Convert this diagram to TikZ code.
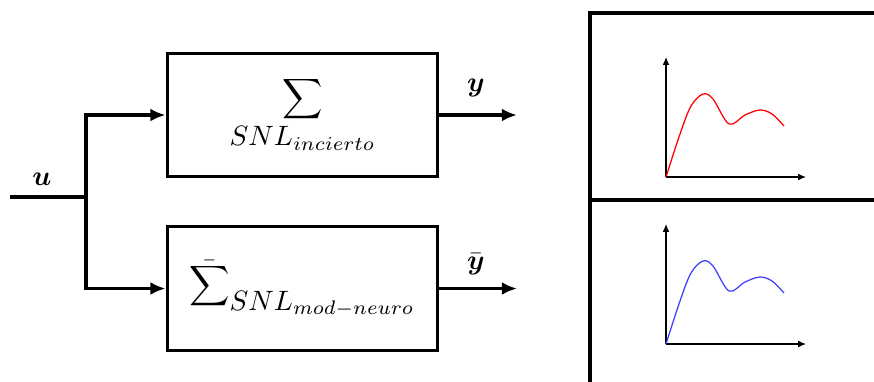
\documentclass[tikz,border=0pt]{standalone}
\usepackage{amsmath}
\usetikzlibrary{arrows.meta}
\begin{document}
\begin{tikzpicture}[x=0.357pt,y=-0.357pt,
  blockbox/.style={draw,line width=1.1pt,minimum width=96.7pt,minimum height=44.2pt,inner sep=0pt},
  sig/.style={line width=1.1pt,-{Latex[length=5.4pt,width=4.6pt]}},
  wire/.style={line width=1.1pt},
  frame/.style={line width=1.4pt},
  axis/.style={line width=0.4pt,-{Latex[length=2.8pt,width=2.4pt]}},
  curve/.style={line width=0.45pt,smooth,tension=0.55}]
\useasboundingbox (0,0) rectangle (874,381);
% blocks
\node[blockbox] (top) at (302.5,115) {$\displaystyle\sum_{\textstyle SNL_{incierto}}$};
\node[blockbox] (bot) at (302.5,288.5) {$\displaystyle\bar{\sum}_{\textstyle SNL_{mod-neuro}}$};
% input
\coordinate (in) at (10,197);
\coordinate (split) at (86,197);
\draw[wire] (in) -- (split);
\draw[sig] (split) |- (top.west);
\draw[sig] (split) |- (bot.west);
\node (ulab) at (42,179) {$\boldsymbol{u}$};
% outputs
\coordinate (yout) at (517,115);
\coordinate (ybout) at (517,288.5);
\draw[sig] (top.east) -- (yout);
\draw[sig] (bot.east) -- (ybout);
\node (ylab) at (476,88) {$\boldsymbol{y}$};
\node (yblab) at (476,264) {$\bar{\boldsymbol{y}}$};
% panel
\coordinate (pbl) at (590,385);
\coordinate (ptl) at (590,13);
\coordinate (ptr) at (880,13);
\coordinate (pml) at (590,200);
\coordinate (pmr) at (880,200);
\draw[frame] (pbl) -- (ptl) -- (ptr);
\draw[frame] (pml) -- (pmr);
% top graph
\coordinate (o1) at (666,177);
\coordinate (x1) at (806,177);
\coordinate (y1) at (666,57);
\draw[axis] (o1) -- (x1);
\draw[axis] (o1) -- (y1);
\draw[red,curve] plot coordinates {(666,177) (680,134) (691,106) (703,94) (713,99) (729,124) (745,115) (760,110) (772,114) (784,126)};
% bottom graph
\coordinate (o2) at (666,344);
\coordinate (x2) at (806,344);
\coordinate (y2) at (666,224);
\draw[axis] (o2) -- (x2);
\draw[axis] (o2) -- (y2);
\draw[blue!75,curve] plot coordinates {(666,344) (680,301) (691,273) (703,261) (713,266) (729,291) (745,282) (760,277) (772,281) (784,293)};
\end{tikzpicture}
\end{document}
